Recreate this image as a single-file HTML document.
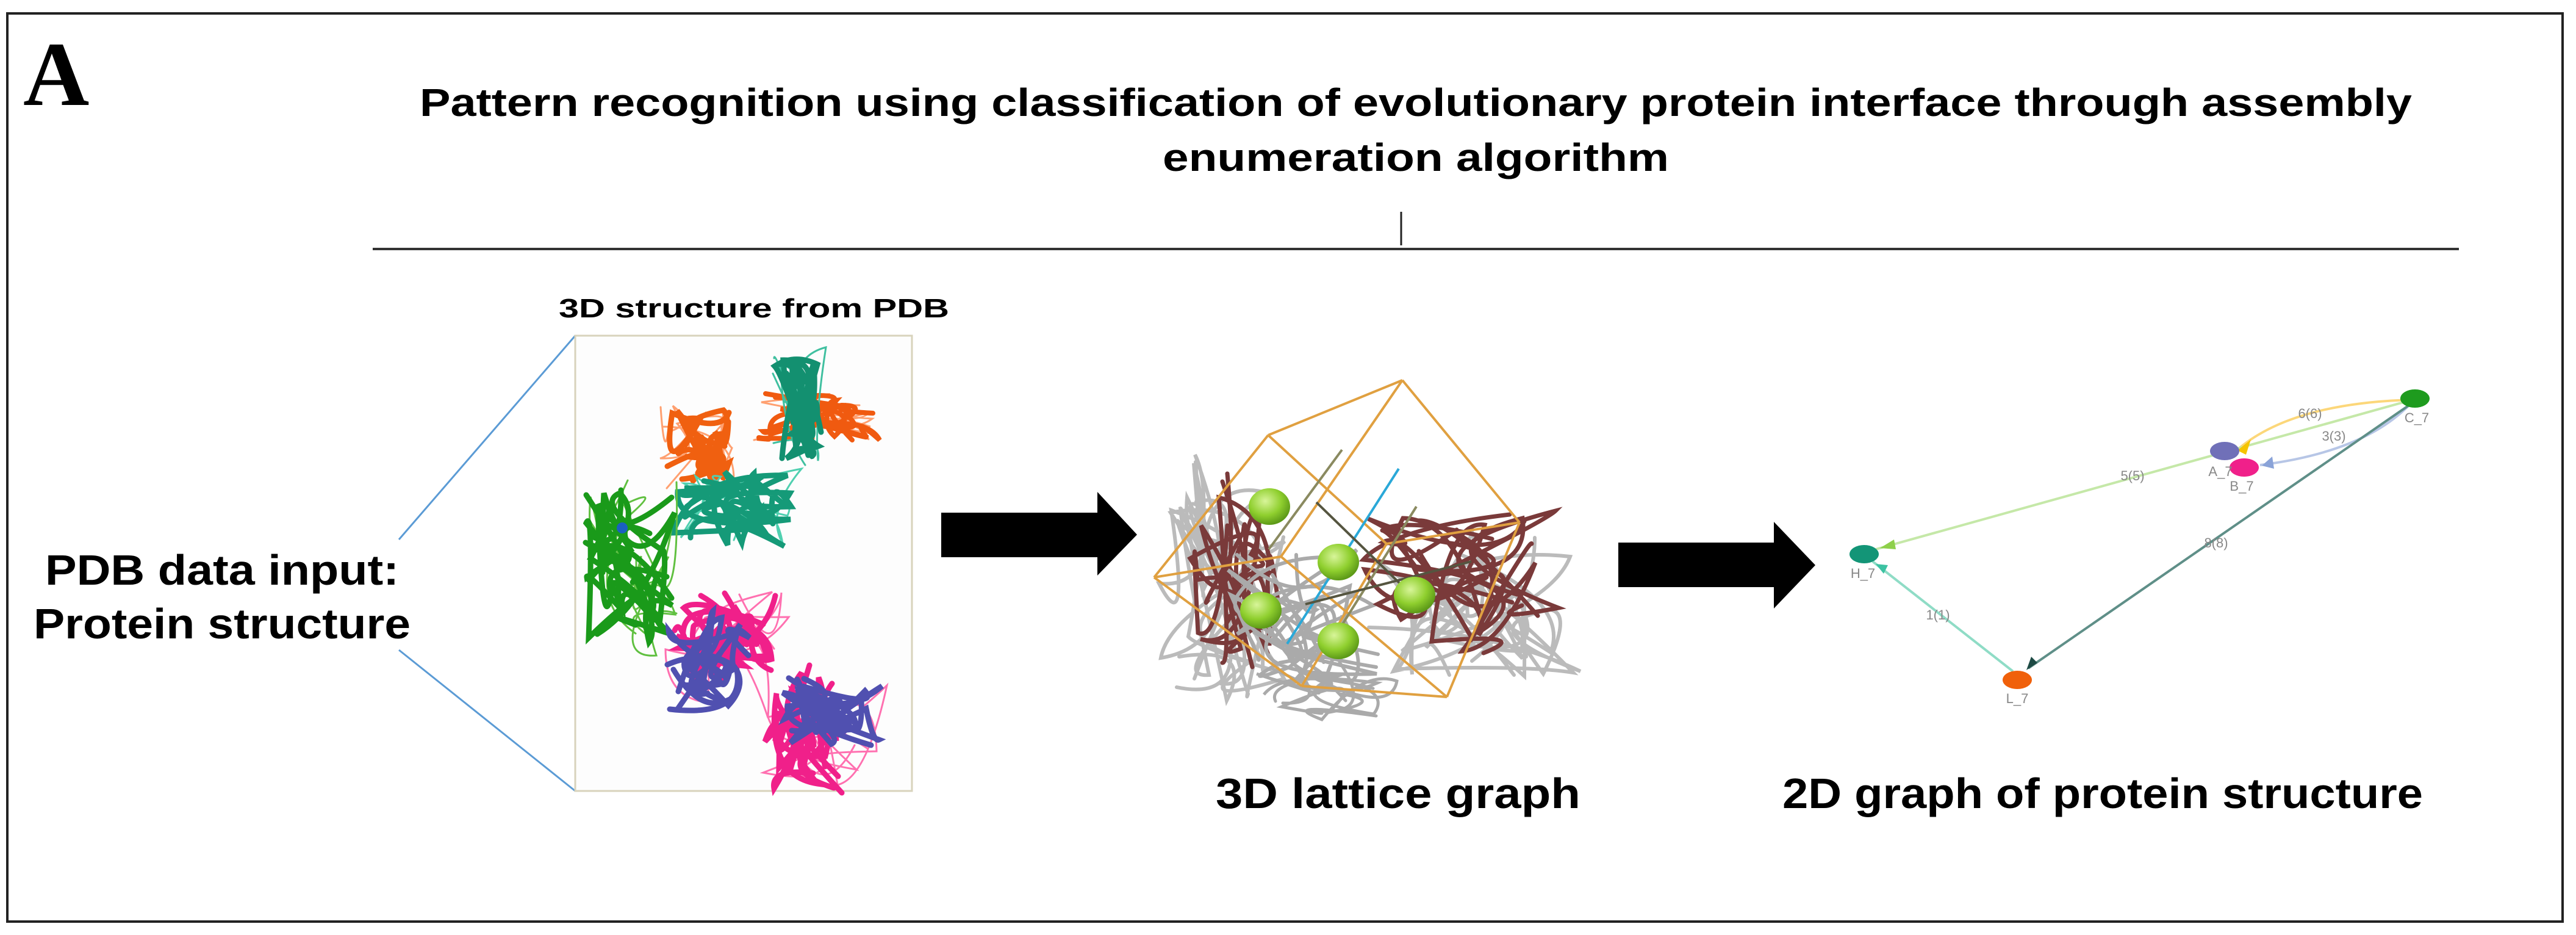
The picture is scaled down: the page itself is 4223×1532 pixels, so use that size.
<!DOCTYPE html>
<html><head><meta charset="utf-8"><style>
html,body{margin:0;padding:0;background:#fff}
svg{display:block}
text{font-family:"Liberation Sans",Arial,sans-serif;font-weight:bold;fill:#000}
text.g{fill:#888;font-weight:normal}
</style></head><body>
<svg id="s" width="4223" height="1532" viewBox="0 0 4223 1532" xmlns="http://www.w3.org/2000/svg">
<rect x="12" y="22" width="4189" height="1488" fill="#fff" stroke="#222" stroke-width="4"/>
<text x="38" y="172" style="font-family:'Liberation Serif',serif;font-size:150px">A</text>
<text x="2321" y="190" text-anchor="middle" font-size="64" textLength="3266" lengthAdjust="spacingAndGlyphs">Pattern recognition using classification of evolutionary protein interface through assembly</text>
<text x="2321" y="280" text-anchor="middle" font-size="64" textLength="830" lengthAdjust="spacingAndGlyphs">enumeration algorithm</text>
<line x1="2297" y1="347" x2="2297" y2="402" stroke="#222" stroke-width="3"/>
<line x1="611" y1="408" x2="4031" y2="408" stroke="#333" stroke-width="4"/>
<text x="1236" y="520" text-anchor="middle" font-size="44" textLength="640" lengthAdjust="spacingAndGlyphs">3D structure from PDB</text>
<line x1="654" y1="884" x2="943" y2="550" stroke="#5b9bd5" stroke-width="3"/>
<line x1="654" y1="1065" x2="943" y2="1296" stroke="#5b9bd5" stroke-width="3"/>
<rect x="943" y="550" width="552" height="746" fill="#fdfdfd" stroke="#d8d3bc" stroke-width="3"/>
<text x="364" y="958" text-anchor="middle" font-size="70" textLength="580" lengthAdjust="spacingAndGlyphs">PDB data input:</text>
<text x="364" y="1046" text-anchor="middle" font-size="70" textLength="618" lengthAdjust="spacingAndGlyphs">Protein structure</text>
<g id="prot"></g>
<g id="lat"></g>
<polygon points="1543,840 1799,840 1799,806 1864,876 1799,943 1799,913 1543,913" fill="#000"/>
<polygon points="2653,889 2908,889 2908,855 2976,926 2908,997 2908,962 2653,962" fill="#000"/>
<text x="2292" y="1324" text-anchor="middle" font-size="70" textLength="598" lengthAdjust="spacingAndGlyphs">3D lattice  graph</text>
<text x="3447" y="1324" text-anchor="middle" font-size="70" textLength="1050" lengthAdjust="spacingAndGlyphs">2D graph of protein structure</text>
<g fill="none" stroke-width="4">
<path d="M3955,655 Q3760,660 3670,735" stroke="#fcd77a"/>
<line x1="3955" y1="655" x2="3075" y2="900" stroke="#c5e8a8"/>
<path d="M3955,658 Q3880,740 3705,762" stroke="#b7c6e6"/>
<line x1="3955" y1="660" x2="3325" y2="1095" stroke="#5f8f88"/>
<line x1="3300" y1="1100" x2="3070" y2="920" stroke="#8fdcc6"/>
</g>
<polygon points="3668,738 3690,720 3682,745" fill="#f5c400"/>
<polygon points="3708,763 3725,748 3728,768" fill="#8aa3d8"/>
<polygon points="3082,898 3105,884 3108,900" fill="#8ed04a"/>
<polygon points="3322,1098 3330,1076 3340,1086" fill="#1d4a44"/>
<polygon points="3075,924 3095,926 3088,940" fill="#3cc2a2"/>
<ellipse cx="3959" cy="653" rx="24" ry="15" fill="#1e9b1e"/>
<ellipse cx="3647" cy="739" rx="24" ry="15" fill="#7070b8"/>
<ellipse cx="3679" cy="766" rx="24" ry="15" fill="#f0208a"/>
<ellipse cx="3056" cy="908" rx="24" ry="15" fill="#139577"/>
<ellipse cx="3307" cy="1114" rx="24" ry="15" fill="#f0600a"/>
<g font-size="22">
<text class="g" x="3787" y="685" text-anchor="middle">6(6)</text>
<text class="g" x="3826" y="722" text-anchor="middle">3(3)</text>
<text class="g" x="3496" y="787" text-anchor="middle">5(5)</text>
<text class="g" x="3633" y="897" text-anchor="middle">8(8)</text>
<text class="g" x="3177" y="1015" text-anchor="middle">1(1)</text>
<text class="g" x="3962" y="692" text-anchor="middle">C_7</text>
<text class="g" x="3640" y="780" text-anchor="middle">A_7</text>
<text class="g" x="3675" y="804" text-anchor="middle">B_7</text>
<text class="g" x="3054" y="947" text-anchor="middle">H_7</text>
<text class="g" x="3307" y="1152" text-anchor="middle">L_7</text>
</g>
</svg>
<script>
var NS="http://www.w3.org/2000/svg";
var seed=7;function r(){seed=(seed*16807)%2147483647;return seed/2147483647;}
function scrib(g,x0,y0,x1,y1,col,n,w){
  var d="";
  for(var k=0;k<n;k++){
    var x=x0+r()*(x1-x0),y=y0+r()*(y1-y0);d+="M"+x.toFixed(0)+","+y.toFixed(0);
    for(var j=0;j<4;j++){var nx=x0+r()*(x1-x0),ny=y0+r()*(y1-y0);
      d+=" Q"+(x0+r()*(x1-x0)).toFixed(0)+","+(y0+r()*(y1-y0)).toFixed(0)+" "+nx.toFixed(0)+","+ny.toFixed(0);}
  }
  var p=document.createElementNS(NS,"path");p.setAttribute("d",d);p.setAttribute("fill","none");
  p.setAttribute("stroke",col);p.setAttribute("stroke-width",w);p.setAttribute("stroke-linecap","round");g.appendChild(p);
}
var P=document.getElementById("prot");
scrib(P,1236,632,1443,729,"#ffa070",4,3);scrib(P,1240,645,1443,725,"#f05a10",6,8);
scrib(P,1261,564,1358,773,"#40c0a0",3,3);scrib(P,1270,575,1350,765,"#139070",6,9);
scrib(P,1076,661,1211,807,"#ffa070",3,3);scrib(P,1086,670,1211,800,"#f06010",6,9);
scrib(P,1094,763,1315,904,"#50d0b0",3,3);scrib(P,1100,770,1300,895,"#159a78",7,9);
scrib(P,947,787,1122,1093,"#60c040",4,3);scrib(P,960,800,1110,1060,"#1a9a1a",8,9);
scrib(P,1083,967,1297,1185,"#ff70b0",3,3);scrib(P,1100,970,1280,1120,"#f0208a",6,9);scrib(P,1090,1000,1230,1180,"#5050b0",6,9);
scrib(P,1236,1078,1458,1301,"#ff70b0",3,3);scrib(P,1250,1090,1380,1300,"#f0208a",6,9);scrib(P,1280,1110,1450,1230,"#5050b0",6,9);
var C=document.createElementNS(NS,"circle");C.setAttribute("cx",1020);C.setAttribute("cy",865);C.setAttribute("r",9);C.setAttribute("fill","#1a60c0");P.appendChild(C);
var L=document.getElementById("lat");
scrib(L,1900,740,2110,1180,"#bbbbbb",8,6);scrib(L,1940,750,2100,1100,"#7a3a3a",6,7);
scrib(L,2000,900,2260,1140,"#aaa",7,6);scrib(L,2240,860,2600,1130,"#bbbbbb",7,6);
scrib(L,2230,830,2560,1080,"#7a3a3a",7,7);scrib(L,2050,1080,2300,1180,"#aaa",4,5);
var edges=[[2299,623,2079,713],[2299,623,2491,856],[2299,623,2100,912],[2079,713,1892,946],[2079,713,2273,891],[1892,946,2100,912],[1892,946,2134,1124],[2100,912,2372,1142],[2491,856,2273,891],[2491,856,2372,1142],[2134,1124,2372,1142],[2273,891,2134,1124]];
edges.forEach(function(e){var l=document.createElementNS(NS,"line");l.setAttribute("x1",e[0]);l.setAttribute("y1",e[1]);l.setAttribute("x2",e[2]);l.setAttribute("y2",e[3]);l.setAttribute("stroke","#e0a040");l.setAttribute("stroke-width",4);L.appendChild(l);});
[[2293,768,2110,1055,"#2aa8d8"],[2200,737,2080,900,"#8a8a60"],[2322,830,2190,1040,"#8a8a60"],[2158,823,2330,990,"#555540"],[2140,990,2412,920,"#555540"]].forEach(function(e){var l=document.createElementNS(NS,"line");l.setAttribute("x1",e[0]);l.setAttribute("y1",e[1]);l.setAttribute("x2",e[2]);l.setAttribute("y2",e[3]);l.setAttribute("stroke",e[4]);l.setAttribute("stroke-width",4);L.appendChild(l);});
var defs=document.createElementNS(NS,"defs");defs.innerHTML='<radialGradient id="gs" cx="40%" cy="35%" r="65%"><stop offset="0" stop-color="#d8f59a"/><stop offset="0.6" stop-color="#8fcf2e"/><stop offset="1" stop-color="#5d9a18"/></radialGradient>';document.getElementById("s").appendChild(defs);
[[2081,830],[2194,921],[2067,1000],[2319,975],[2194,1050]].forEach(function(c){var e=document.createElementNS(NS,"ellipse");e.setAttribute("cx",c[0]);e.setAttribute("cy",c[1]);e.setAttribute("rx",34);e.setAttribute("ry",30);e.setAttribute("fill","url(#gs)");L.appendChild(e);});
</script>
</body></html>
